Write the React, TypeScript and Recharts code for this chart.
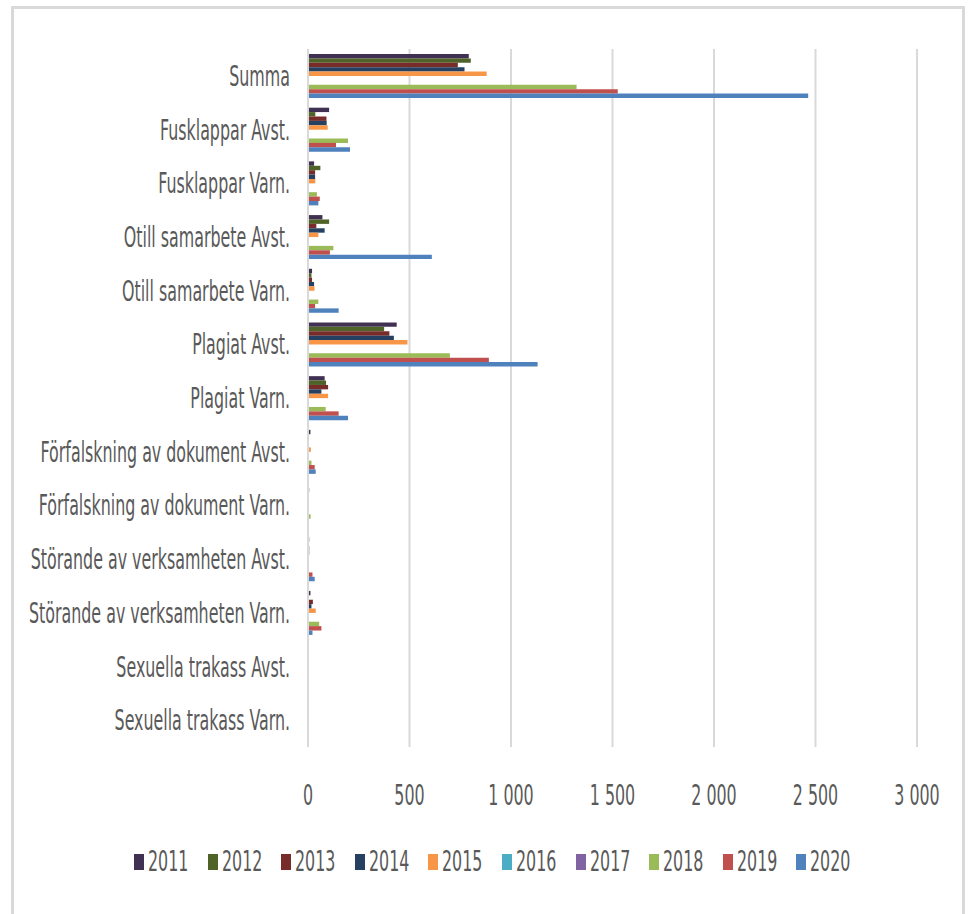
import { Bar, BarChart, CartesianGrid, Legend, XAxis, YAxis } from 'recharts'

const categories = [
  'Summa',
  'Fusklappar Avst.',
  'Fusklappar Varn.',
  'Otill samarbete Avst.',
  'Otill samarbete Varn.',
  'Plagiat Avst.',
  'Plagiat Varn.',
  'Förfalskning av dokument Avst.',
  'Förfalskning av dokument Varn.',
  'Störande av verksamheten Avst.',
  'Störande av verksamheten Varn.',
  'Sexuella trakass Avst.',
  'Sexuella trakass Varn.',
]

const years = ['2011', '2012', '2013', '2014', '2015', '2016', '2017', '2018', '2019', '2020']

const v2011 = [792, 104, 30, 71, 20, 437, 82, 12, 0, 6, 12, 0, 0]
const v2012 = [802, 36, 61, 104, 17, 375, 89, 2, 6, 4, 3, 0, 0]
const v2013 = [738, 91, 35, 41, 20, 401, 99, 3, 0, 6, 24, 0, 0]
const v2014 = [771, 92, 35, 82, 30, 423, 66, 3, 0, 6, 17, 0, 0]
const v2015 = [880, 97, 36, 51, 32, 490, 99, 14, 0, 0, 38, 0, 0]
const v2016 = [0, 0, 0, 0, 0, 0, 0, 0, 0, 0, 0, 0, 0]
const v2017 = [0, 0, 0, 0, 0, 0, 0, 0, 0, 0, 0, 0, 0]
const v2018 = [1323, 197, 44, 125, 51, 699, 87, 17, 13, 4, 55, 0, 0]
const v2019 = [1526, 138, 58, 108, 35, 891, 151, 33, 4, 22, 66, 0, 0]
const v2020 = [2464, 207, 51, 610, 151, 1131, 197, 38, 0, 33, 22, 0, 0]

const seriesValues = [v2011, v2012, v2013, v2014, v2015, v2016, v2017, v2018, v2019, v2020]

const colors = [
  '#403152',
  '#4f6228',
  '#772c2a',
  '#254061',
  '#f79646',
  '#4bacc6',
  '#8064a2',
  '#9bbb59',
  '#c0504d',
  '#4f81bd',
]

const xTicks = [0, 500, 1000, 1500, 2000, 2500, 3000]

const data = categories.map((name, i) => {
  const row: Record<string, string | number> = { name }
  years.forEach((y, j) => {
    row[y] = seriesValues[j][i]
  })
  return row
})

const FONT = "'DejaVu Sans Condensed', 'Liberation Sans Narrow', sans-serif"
const TEXT = '#595959'
const SQUEEZE = 0.63

const fmt = (v: number) => String(v).replace(/\B(?=(\d{3})+(?!\d))/g, '\u00a0')

const YTick = ({ x, y, payload }: any) => (
  <text
    transform={`translate(${x},${y}) scale(${SQUEEZE},1)`}
    textAnchor='end'
    dy='0.36em'
    fill={TEXT}
    fontSize={28}
    fontFamily={FONT}
  >
    {payload.value}
  </text>
)

const XTick = ({ x, y, payload }: any) => (
  <text
    transform={`translate(${x},${y}) scale(${SQUEEZE},1)`}
    textAnchor='middle'
    dy='0.71em'
    fill={TEXT}
    fontSize={28}
    fontFamily={FONT}
  >
    {fmt(payload.value)}
  </text>
)

const LegendContent = ({ payload }: any) => (
  <div style={{ display: 'flex', height: 40, alignItems: 'center', paddingLeft: 134 }}>
    {(payload || []).map((p: any) => (
      <div key={p.value} style={{ display: 'flex', alignItems: 'center', width: 73.6, flexShrink: 0 }}>
        <div
          style={{
            width: 10,
            minWidth: 10,
            height: 16,
            background: p.color,
            marginRight: 4,
            flexShrink: 0,
          }}
        />
        <span
          style={{
            display: 'inline-block',
            fontFamily: FONT,
            fontSize: 28,
            color: TEXT,
            transform: `scaleX(${SQUEEZE})`,
            transformOrigin: 'left center',
            whiteSpace: 'nowrap',
            lineHeight: '40px',
          }}
        >
          {p.value}
        </span>
      </div>
    ))}
  </div>
)

export default function App() {
  return (
    <div
      style={{
        position: 'absolute',
        left: 0,
        top: 0,
        width: 970,
        height: 914,
        overflow: 'hidden',
        background: '#fff',
      }}
    >
      <div
        style={{
          position: 'absolute',
          left: 11,
          top: 6,
          width: 948,
          height: 920,
          border: '3px solid #d9d9d9',
          borderBottom: 'none',
        }}
      />
      <div style={{ position: 'absolute', left: 0, top: 0 }}>
        <BarChart
          width={970}
          height={914}
          data={data}
          layout='vertical'
          margin={{ top: 49, right: 53, bottom: 32, left: 0 }}
          barSize={4.4}
          barGap={0}
        >
          <CartesianGrid horizontal={false} stroke='#d9d9d9' strokeWidth={2} />
          <XAxis
            type='number'
            domain={[0, 3000]}
            ticks={xTicks}
            axisLine={false}
            tickLine={false}
            tickSize={0}
            tickMargin={38}
            height={95}
            interval={0}
            tick={<XTick />}
          />
          <YAxis
            type='category'
            dataKey='name'
            width={308}
            axisLine={{ stroke: '#d9d9d9', strokeWidth: 2 }}
            tickLine={false}
            tickSize={0}
            tickMargin={18}
            interval={0}
            tick={<YTick />}
          />
          {years.map((y, i) => (
            <Bar key={y} dataKey={y} fill={colors[i]} isAnimationActive={false} />
          ))}
          <Legend verticalAlign='bottom' content={<LegendContent />} />
        </BarChart>
      </div>
    </div>
  )
}
